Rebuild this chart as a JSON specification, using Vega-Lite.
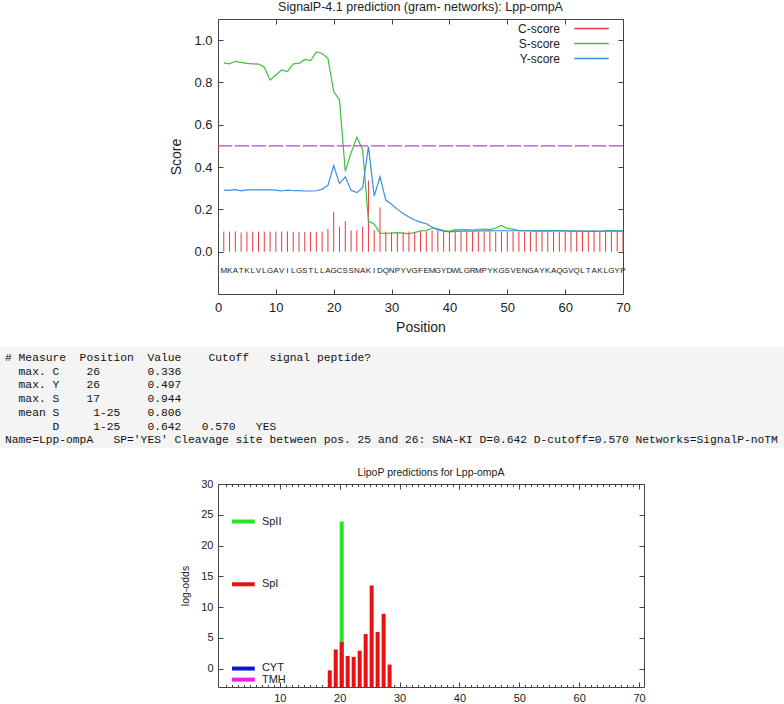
{
"$schema": "https://vega.github.io/schema/vega-lite/v6.json",
"padding": 0,
"background": "white",
"spacing": 12,
"resolve": {"scale": {"color": "independent"}, "legend": {"color": "independent"}},
"config": {
  "font": "Liberation Sans",
  "axis": {"grid": false, "domain": false, "labelColor": "#222", "titleColor": "#222", "titleFontWeight": "normal", "tickColor": "#444", "labelFont": "Liberation Sans", "titleFont": "Liberation Sans"},
  "title": {"fontWeight": "normal", "color": "#222", "anchor": "middle", "font": "Liberation Sans"}
},
"vconcat": [
{
  "title": {"text": "SignalP-4.1 prediction (gram- networks): Lpp-ompA", "fontSize": 12.5, "offset": 5},
  "width": 405, "height": 275,
  "view": {"stroke": "#444", "strokeWidth": 1},
  "data": {"values": [
    {"pos":1,"aa":"M","C-score":0.095,"S-score":0.893,"Y-score":0.291},
    {"pos":2,"aa":"K","C-score":0.095,"S-score":0.888,"Y-score":0.290},
    {"pos":3,"aa":"A","C-score":0.096,"S-score":0.900,"Y-score":0.293},
    {"pos":4,"aa":"T","C-score":0.091,"S-score":0.895,"Y-score":0.288},
    {"pos":5,"aa":"K","C-score":0.095,"S-score":0.890,"Y-score":0.292},
    {"pos":6,"aa":"L","C-score":0.095,"S-score":0.888,"Y-score":0.292},
    {"pos":7,"aa":"V","C-score":0.095,"S-score":0.887,"Y-score":0.292},
    {"pos":8,"aa":"L","C-score":0.095,"S-score":0.872,"Y-score":0.292},
    {"pos":9,"aa":"G","C-score":0.095,"S-score":0.812,"Y-score":0.292},
    {"pos":10,"aa":"A","C-score":0.095,"S-score":0.835,"Y-score":0.291},
    {"pos":11,"aa":"V","C-score":0.095,"S-score":0.859,"Y-score":0.287},
    {"pos":12,"aa":"I","C-score":0.096,"S-score":0.851,"Y-score":0.291},
    {"pos":13,"aa":"L","C-score":0.095,"S-score":0.888,"Y-score":0.288},
    {"pos":14,"aa":"G","C-score":0.094,"S-score":0.890,"Y-score":0.289},
    {"pos":15,"aa":"S","C-score":0.094,"S-score":0.909,"Y-score":0.287},
    {"pos":16,"aa":"T","C-score":0.093,"S-score":0.903,"Y-score":0.287},
    {"pos":17,"aa":"L","C-score":0.094,"S-score":0.944,"Y-score":0.288},
    {"pos":18,"aa":"L","C-score":0.095,"S-score":0.937,"Y-score":0.296},
    {"pos":19,"aa":"A","C-score":0.108,"S-score":0.914,"Y-score":0.313},
    {"pos":20,"aa":"G","C-score":0.189,"S-score":0.757,"Y-score":0.407},
    {"pos":21,"aa":"C","C-score":0.118,"S-score":0.718,"Y-score":0.322},
    {"pos":22,"aa":"S","C-score":0.145,"S-score":0.380,"Y-score":0.354},
    {"pos":23,"aa":"S","C-score":0.100,"S-score":0.467,"Y-score":0.290},
    {"pos":24,"aa":"N","C-score":0.100,"S-score":0.542,"Y-score":0.279},
    {"pos":25,"aa":"A","C-score":0.118,"S-score":0.482,"Y-score":0.302},
    {"pos":26,"aa":"K","C-score":0.336,"S-score":0.145,"Y-score":0.497},
    {"pos":27,"aa":"I","C-score":0.102,"S-score":0.130,"Y-score":0.263},
    {"pos":28,"aa":"D","C-score":0.210,"S-score":0.088,"Y-score":0.354},
    {"pos":29,"aa":"Q","C-score":0.095,"S-score":0.087,"Y-score":0.244},
    {"pos":30,"aa":"N","C-score":0.093,"S-score":0.088,"Y-score":0.224},
    {"pos":31,"aa":"P","C-score":0.094,"S-score":0.090,"Y-score":0.200},
    {"pos":32,"aa":"Y","C-score":0.092,"S-score":0.088,"Y-score":0.181},
    {"pos":33,"aa":"V","C-score":0.095,"S-score":0.085,"Y-score":0.164},
    {"pos":34,"aa":"G","C-score":0.094,"S-score":0.090,"Y-score":0.150},
    {"pos":35,"aa":"F","C-score":0.096,"S-score":0.098,"Y-score":0.140},
    {"pos":36,"aa":"E","C-score":0.095,"S-score":0.100,"Y-score":0.132},
    {"pos":37,"aa":"M","C-score":0.100,"S-score":0.112,"Y-score":0.117},
    {"pos":38,"aa":"G","C-score":0.098,"S-score":0.108,"Y-score":0.103},
    {"pos":39,"aa":"Y","C-score":0.094,"S-score":0.100,"Y-score":0.097},
    {"pos":40,"aa":"D","C-score":0.095,"S-score":0.096,"Y-score":0.094},
    {"pos":41,"aa":"W","C-score":0.096,"S-score":0.104,"Y-score":0.096},
    {"pos":42,"aa":"L","C-score":0.095,"S-score":0.103,"Y-score":0.097},
    {"pos":43,"aa":"G","C-score":0.094,"S-score":0.104,"Y-score":0.097},
    {"pos":44,"aa":"R","C-score":0.095,"S-score":0.102,"Y-score":0.097},
    {"pos":45,"aa":"M","C-score":0.096,"S-score":0.106,"Y-score":0.098},
    {"pos":46,"aa":"P","C-score":0.095,"S-score":0.107,"Y-score":0.098},
    {"pos":47,"aa":"Y","C-score":0.096,"S-score":0.104,"Y-score":0.098},
    {"pos":48,"aa":"K","C-score":0.094,"S-score":0.112,"Y-score":0.099},
    {"pos":49,"aa":"G","C-score":0.095,"S-score":0.124,"Y-score":0.099},
    {"pos":50,"aa":"S","C-score":0.096,"S-score":0.110,"Y-score":0.099},
    {"pos":51,"aa":"V","C-score":0.095,"S-score":0.107,"Y-score":0.099},
    {"pos":52,"aa":"E","C-score":0.094,"S-score":0.100,"Y-score":0.099},
    {"pos":53,"aa":"N","C-score":0.095,"S-score":0.100,"Y-score":0.099},
    {"pos":54,"aa":"G","C-score":0.094,"S-score":0.100,"Y-score":0.098},
    {"pos":55,"aa":"A","C-score":0.095,"S-score":0.097,"Y-score":0.098},
    {"pos":56,"aa":"Y","C-score":0.094,"S-score":0.098,"Y-score":0.098},
    {"pos":57,"aa":"K","C-score":0.095,"S-score":0.098,"Y-score":0.098},
    {"pos":58,"aa":"A","C-score":0.096,"S-score":0.100,"Y-score":0.098},
    {"pos":59,"aa":"Q","C-score":0.094,"S-score":0.100,"Y-score":0.098},
    {"pos":60,"aa":"G","C-score":0.095,"S-score":0.098,"Y-score":0.098},
    {"pos":61,"aa":"V","C-score":0.094,"S-score":0.097,"Y-score":0.097},
    {"pos":62,"aa":"Q","C-score":0.095,"S-score":0.099,"Y-score":0.097},
    {"pos":63,"aa":"L","C-score":0.094,"S-score":0.096,"Y-score":0.097},
    {"pos":64,"aa":"T","C-score":0.095,"S-score":0.096,"Y-score":0.097},
    {"pos":65,"aa":"A","C-score":0.094,"S-score":0.097,"Y-score":0.097},
    {"pos":66,"aa":"K","C-score":0.095,"S-score":0.095,"Y-score":0.097},
    {"pos":67,"aa":"L","C-score":0.094,"S-score":0.100,"Y-score":0.097},
    {"pos":68,"aa":"G","C-score":0.095,"S-score":0.099,"Y-score":0.097},
    {"pos":69,"aa":"Y","C-score":0.094,"S-score":0.100,"Y-score":0.097},
    {"pos":70,"aa":"P","C-score":0.095,"S-score":0.097,"Y-score":0.097}
  ]},
  "layer": [
    {"mark": {"type": "rule", "strokeWidth": 1},
     "encoding": {
       "x": {"field": "pos", "type": "quantitative", "scale": {"domain": [0, 70], "nice": false, "zero": false},
             "axis": {"values": [0,10,20,30,40,50,60,70], "title": "Position", "labelFontSize": 13, "titleFontSize": 14, "tickSize": -5, "labelPadding": 12, "titlePadding": 6, "labelFlush": false}},
       "y": {"field": "C-score", "type": "quantitative", "scale": {"domain": [-0.2, 1.1], "nice": false, "zero": false},
             "axis": {"values": [0,0.2,0.4,0.6,0.8,1.0], "format": ".1f", "title": "Score", "labelFontSize": 13, "titleFontSize": 14, "tickSize": -5, "labelPadding": 11, "titlePadding": 10}},
       "y2": {"datum": 0},
       "color": {"datum": "C-score", "type": "nominal",
                 "scale": {"domain": ["C-score", "S-score", "Y-score"], "range": ["#e8393b", "#3fbf3f", "#3a8ee6"]},
                 "legend": {"title": null, "orient": "none", "legendX": 365, "legendY": 1, "symbolType": "M-2.3,0H2.3", "symbolSize": 225, "symbolStrokeWidth": 1.3, "labelFontSize": 12, "labelAlign": "right", "labelOffset": -40, "rowPadding": 0, "labelColor": "#222"}}
     }},
    {"transform": [{"fold": ["S-score", "Y-score"], "as": ["series", "score"]}],
     "mark": {"type": "line", "strokeWidth": 1.2},
     "encoding": {
       "x": {"field": "pos", "type": "quantitative", "axis": null},
       "y": {"field": "score", "type": "quantitative", "axis": null},
       "color": {"field": "series", "type": "nominal", "legend": {"title": null, "orient": "none", "legendX": 365, "legendY": 1, "symbolType": "M-2.3,0H2.3", "symbolSize": 225, "symbolStrokeWidth": 1.3, "labelFontSize": 12, "labelAlign": "right", "labelOffset": -40, "rowPadding": 0, "labelColor": "#222"}}
     }},
    {"data": {"values": [{}]},
     "mark": {"type": "rule", "color": "#c23fe0", "strokeWidth": 1.3, "strokeDash": [14, 3]},
     "encoding": {
       "y": {"datum": 0.5, "type": "quantitative", "axis": {"orient": "right", "values": [0,0.2,0.4,0.6,0.8,1.0], "labels": false, "tickSize": -5, "title": null}}
     }},
    {"mark": {"type": "text", "fontSize": 8, "color": "#222", "font": "Liberation Sans"},
     "encoding": {
       "x": {"field": "pos", "type": "quantitative", "axis": {"orient": "top", "values": [0,10,20,30,40,50,60,70], "labels": false, "tickSize": -5, "title": null}},
       "y": {"datum": -0.09, "type": "quantitative", "axis": null},
       "text": {"field": "aa"}
     }}
  ],
  "resolve": {"axis": {"x": "independent", "y": "independent"}}
},
{
  "width": 566, "height": 108,
  "view": {"stroke": null},
  "data": {"values": [
    {"line": 0, "text": "#\u00a0Measure\u00a0\u00a0Position\u00a0\u00a0Value\u00a0\u00a0\u00a0\u00a0Cutoff\u00a0\u00a0\u00a0signal\u00a0peptide?"},
    {"line": 1, "text": "\u200b\u00a0\u00a0max.\u00a0C\u00a0\u00a0\u00a0\u00a026\u00a0\u00a0\u00a0\u00a0\u00a0\u00a0\u00a00.336"},
    {"line": 2, "text": "\u200b\u00a0\u00a0max.\u00a0Y\u00a0\u00a0\u00a0\u00a026\u00a0\u00a0\u00a0\u00a0\u00a0\u00a0\u00a00.497"},
    {"line": 3, "text": "\u200b\u00a0\u00a0max.\u00a0S\u00a0\u00a0\u00a0\u00a017\u00a0\u00a0\u00a0\u00a0\u00a0\u00a0\u00a00.944"},
    {"line": 4, "text": "\u200b\u00a0\u00a0mean\u00a0S\u00a0\u00a0\u00a0\u00a0\u00a01-25\u00a0\u00a0\u00a0\u00a00.806"},
    {"line": 5, "text": "\u200b\u00a0\u00a0\u00a0\u00a0\u00a0\u00a0\u00a0D\u00a0\u00a0\u00a0\u00a0\u00a01-25\u00a0\u00a0\u00a0\u00a00.642\u00a0\u00a0\u00a00.570\u00a0\u00a0\u00a0YES"},
    {"line": 6, "text": "Name=Lpp-ompA\u00a0\u00a0\u00a0SP='YES'\u00a0Cleavage\u00a0site\u00a0between\u00a0pos.\u00a025\u00a0and\u00a026:\u00a0SNA-KI\u00a0D=0.642\u00a0D-cutoff=0.570\u00a0Networks=SignalP-noTM"}
  ]},
  "layer": [
    {"data": {"values": [{}]},
     "mark": {"type": "rect", "fill": "#f4f4f4"},
     "encoding": {
       "x": {"datum": -0.735, "type": "quantitative", "scale": {"domain": [31.32, 114.56], "nice": false, "zero": false}, "axis": null},
       "x2": {"datum": 114.56},
       "y": {"datum": -0.803, "type": "quantitative", "scale": {"domain": [-0.803, 7.08], "reverse": true, "nice": false, "zero": false}, "axis": null},
       "y2": {"datum": 6.57}
     }},
    {"mark": {"type": "text", "align": "left", "baseline": "middle", "font": "Liberation Mono", "fontSize": 11.3, "color": "#111"},
     "encoding": {
       "x": {"datum": 0, "type": "quantitative"},
       "y": {"field": "line", "type": "quantitative"},
       "text": {"field": "text"}
     }}
  ]
},
{
  "title": {"text": "LipoP predictions for Lpp-ompA", "fontSize": 10.5, "offset": 0},
  "width": 426, "height": 203,
  "view": {"stroke": "#444", "strokeWidth": 1},
  "data": {"values": [
    {"pos": 20, "class": "SpII", "score": 23.9},
    {"pos": 18, "class": "SpI", "score": -0.3},
    {"pos": 19, "class": "SpI", "score": 3.1},
    {"pos": 20, "class": "SpI", "score": 4.3},
    {"pos": 21, "class": "SpI", "score": 2.05},
    {"pos": 22, "class": "SpI", "score": 1.9},
    {"pos": 23, "class": "SpI", "score": 2.9},
    {"pos": 24, "class": "SpI", "score": 5.6},
    {"pos": 25, "class": "SpI", "score": 13.5},
    {"pos": 26, "class": "SpI", "score": 5.95},
    {"pos": 27, "class": "SpI", "score": 8.9},
    {"pos": 28, "class": "SpI", "score": 0.65}
  ]},
  "layer": [
    {"mark": {"type": "bar", "size": 4, "xOffset": 2},
     "encoding": {
       "x": {"field": "pos", "type": "quantitative", "scale": {"domain": [0.5, 70], "nice": false, "zero": false},
             "axis": {"values": [10,20,30,40,50,60,70], "labelFontSize": 11, "tickSize": -5, "labelPadding": 10, "title": null}},
       "y": {"field": "score", "type": "quantitative", "stack": null, "scale": {"domain": [-3, 30], "nice": false, "zero": false},
             "axis": {"values": [0,5,10,15,20,25,30], "labelFontSize": 11, "tickSize": -5, "labelPadding": 10, "title": "log-odds", "titleFontSize": 10.5, "titlePadding": 10}},
       "y2": {"datum": -3},
       "color": {"field": "class", "type": "nominal", "scale": {"domain": ["SpII", "SpI", "CYT", "TMH"], "range": ["#22e822", "#e81010", "#1010d0", "#e820e8"]}, "legend": null}
     }},
    {"data": {"values": [{}]}, "mark": {"type": "rule", "strokeWidth": 4},
     "encoding": {"x": {"datum": 2, "type": "quantitative", "axis": {"orient": "top", "values": [1,2,3,4,5,6,7,8,9,10,11,12,13,14,15,16,17,18,19,20,21,22,23,24,25,26,27,28,29,30,31,32,33,34,35,36,37,38,39,40,41,42,43,44,45,46,47,48,49,50,51,52,53,54,55,56,57,58,59,60,61,62,63,64,65,66,67,68,69,70], "labels": false, "tickSize": -2.5, "title": null}}, "x2": {"datum": 5.8}, "y": {"datum": 23.9, "type": "quantitative", "axis": null}, "color": {"datum": "SpII"}}},
    {"data": {"values": [{}]}, "mark": {"type": "rule", "strokeWidth": 4},
     "encoding": {"x": {"datum": 2, "type": "quantitative", "axis": {"orient": "bottom", "values": [1,2,3,4,5,6,7,8,9,10,11,12,13,14,15,16,17,18,19,20,21,22,23,24,25,26,27,28,29,30,31,32,33,34,35,36,37,38,39,40,41,42,43,44,45,46,47,48,49,50,51,52,53,54,55,56,57,58,59,60,61,62,63,64,65,66,67,68,69,70], "labels": false, "tickSize": -2.5, "title": null}}, "x2": {"datum": 5.8}, "y": {"datum": 13.7, "type": "quantitative", "axis": null}, "color": {"datum": "SpI"}}},
    {"data": {"values": [{}]}, "mark": {"type": "rule", "strokeWidth": 4},
     "encoding": {"x": {"datum": 2, "type": "quantitative", "axis": {"orient": "top", "values": [10,20,30,40,50,60,70], "labels": false, "tickSize": -5, "title": null}}, "x2": {"datum": 5.8}, "y": {"datum": 0, "type": "quantitative", "axis": {"orient": "right", "values": [0,5,10,15,20,25,30], "labels": false, "tickSize": -5, "title": null}}, "color": {"datum": "CYT"}}},
    {"data": {"values": [{}]}, "mark": {"type": "rule", "strokeWidth": 4},
     "encoding": {"x": {"datum": 2, "type": "quantitative", "axis": null}, "x2": {"datum": 5.8}, "y": {"datum": -1.8, "type": "quantitative", "axis": null}, "color": {"datum": "TMH"}}},
    {"data": {"values": [{"label": "SpII"}]}, "mark": {"type": "text", "align": "left", "baseline": "middle", "fontSize": 11, "color": "#222"},
     "encoding": {"x": {"datum": 7, "type": "quantitative", "axis": null}, "y": {"datum": 23.9, "type": "quantitative", "axis": null}, "text": {"field": "label"}}},
    {"data": {"values": [{"label": "SpI"}]}, "mark": {"type": "text", "align": "left", "baseline": "middle", "fontSize": 11, "color": "#222"},
     "encoding": {"x": {"datum": 7, "type": "quantitative", "axis": null}, "y": {"datum": 13.7, "type": "quantitative", "axis": null}, "text": {"field": "label"}}},
    {"data": {"values": [{"label": "CYT"}]}, "mark": {"type": "text", "align": "left", "baseline": "middle", "fontSize": 11, "color": "#222"},
     "encoding": {"x": {"datum": 7, "type": "quantitative", "axis": null}, "y": {"datum": 0.1, "type": "quantitative", "axis": null}, "text": {"field": "label"}}},
    {"data": {"values": [{"label": "TMH"}]}, "mark": {"type": "text", "align": "left", "baseline": "middle", "fontSize": 11, "color": "#222"},
     "encoding": {"x": {"datum": 7, "type": "quantitative", "axis": null}, "y": {"datum": -1.9, "type": "quantitative", "axis": null}, "text": {"field": "label"}}}
  ],
  "resolve": {"axis": {"x": "independent", "y": "independent"}}
}
]
}
